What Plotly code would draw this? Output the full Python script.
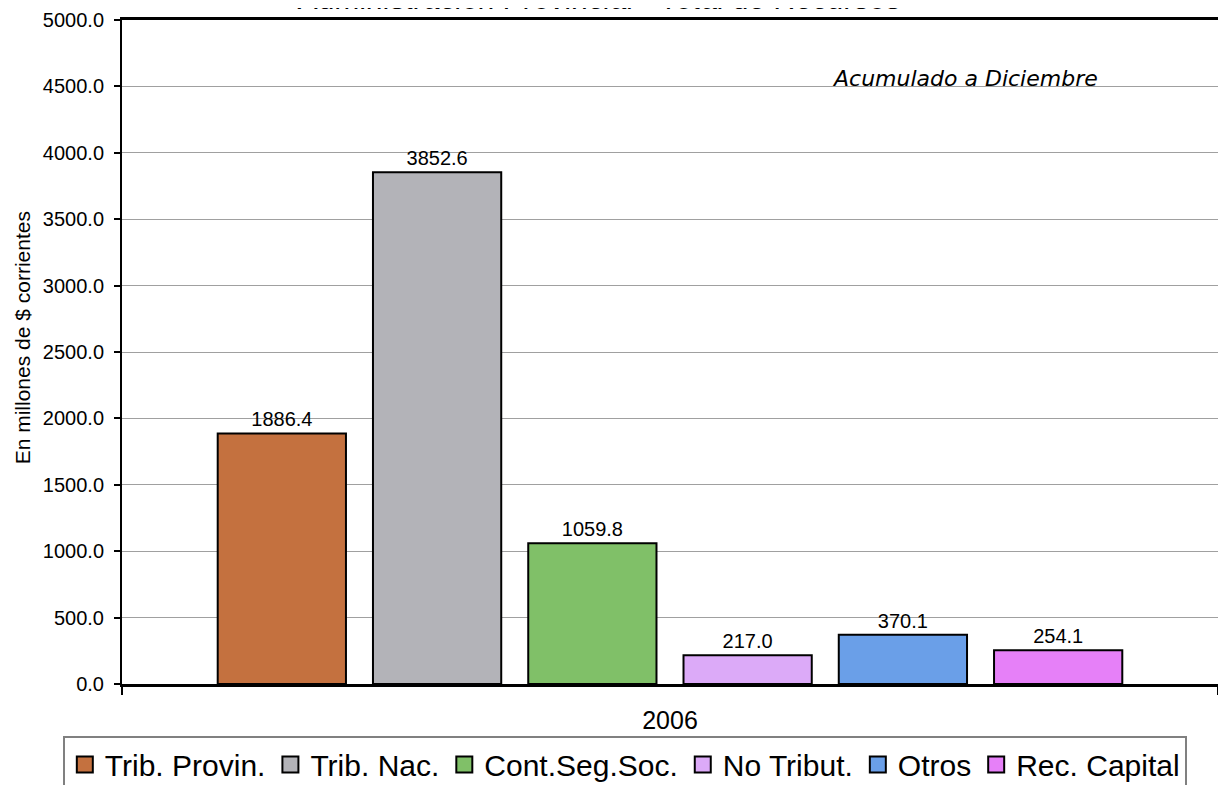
import plotly.graph_objects as go

# datos
anio = ["2006"]
series = ["Trib. Provin.", "Trib. Nac.", "Cont.Seg.Soc.", "No Tribut.", "Otros", "Rec. Capital"]
valores = [1886.4, 3852.6, 1059.8, 217.0, 370.1, 254.1]
colores = ["#C4713F", "#B3B3B8", "#80C068", "#DCAAF8", "#6A9FE8", "#E680F8"]

fig = go.Figure()
for nombre, v, c in zip(series, valores, colores):
    fig.add_trace(go.Bar(
        name=nombre, x=anio, y=[v],
        marker=dict(color=c, line=dict(color="black", width=2)),
        text=[f"{v:.1f}"], textposition="outside",
        textfont=dict(size=20, color="black"),
        cliponaxis=False, showlegend=False,
    ))

# leyenda con cuadrados mas grandes
for nombre, c in zip(series, colores):
    fig.add_trace(go.Scatter(
        name=nombre, x=[None], y=[None], mode="markers",
        marker=dict(symbol="square", size=16, color=c, line=dict(color="black", width=2)),
    ))

# la pagina tiene 8px de margen en el body
fig.update_layout(
    width=1226, height=785,
    margin=dict(l=114, r=16, t=12, b=109, autoexpand=False),
    paper_bgcolor="white", plot_bgcolor="white",
    font=dict(family="Liberation Sans, Arial", color="black"),
    barmode="group", bargap=0.15, bargroupgap=0.174,
    showlegend=True,
    legend=dict(
        orientation="h", x=-0.054, xanchor="left", y=-0.079, yanchor="top",
        font=dict(size=30), bordercolor="#808080", borderwidth=2,
        itemwidth=30, traceorder="normal", bgcolor="white",
    ),
    annotations=[
        dict(text="<i>Administración Provincial - Total de Recursos</i>",
             xref="paper", yref="paper", x=0.435, y=1.0317,
             showarrow=False, font=dict(size=30), yanchor="middle"),
        dict(text="<i>Acumulado a Diciembre</i>",
             xref="paper", yref="paper", x=0.769, y=0.9112,
             showarrow=False, font=dict(size=22, family="DejaVu Sans"),
             xanchor="center", yanchor="middle"),
        dict(text="En millones de $ corrientes", textangle=-90,
             xref="paper", yref="paper", x=-0.091, y=0.521,
             showarrow=False, font=dict(size=21), xanchor="center", yanchor="middle"),
    ],
)

fig.update_xaxes(
    showline=True, linecolor="black", linewidth=3, mirror=True,
    ticks="outside", tickson="boundaries", ticklen=8, tickwidth=2, tickcolor="black",
    tickfont=dict(size=25), ticklabelstandoff=12,
)
fig.update_yaxes(
    range=[0, 5000], dtick=500, tickformat=".1f",
    showline=True, linecolor="black", linewidth=2, mirror=True,
    ticks="outside", ticklen=6, tickwidth=2, tickcolor="black",
    showgrid=True, gridcolor="#A0A0A0", gridwidth=1,
    tickfont=dict(size=20), ticklabelstandoff=6,
)

fig.write_html("out.html")
